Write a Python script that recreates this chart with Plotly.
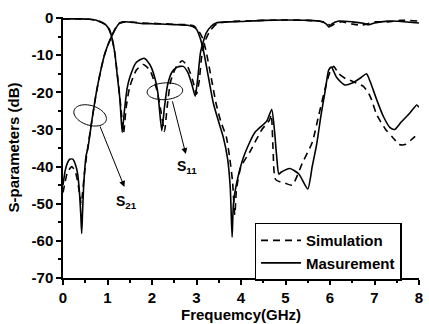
import numpy as np
import plotly.graph_objects as go

# ---------------- data ----------------
s21_meas_f = [0, 0.05, 0.1, 0.15, 0.22, 0.28, 0.33, 0.37, 0.40, 0.42, 0.44, 0.47, 0.52, 0.56, 0.65,
              0.75, 0.85, 0.93, 1.0, 1.09, 1.18, 1.27, 1.4, 1.6, 1.8, 2.0, 2.2, 2.4, 2.6, 2.8, 2.9,
              3.0, 3.08, 3.16, 3.27, 3.38, 3.5, 3.6, 3.7, 3.76, 3.8, 3.83, 3.9, 4.07, 4.31, 4.58,
              4.69, 4.75, 4.8, 4.85, 4.9, 5.1, 5.3, 5.5, 5.6, 5.7, 5.8, 5.9, 5.97, 6.03, 6.15,
              6.33, 6.5, 6.7, 6.82, 6.9, 7.05, 7.2, 7.35, 7.45, 7.6, 7.8, 7.95, 8.0]
s21_meas_db = [-45, -41, -39, -38, -38, -39.5, -42, -47, -53, -58, -52, -44, -37, -35, -27.5,
               -20, -14, -10, -7.5, -5, -2.8, -1.4, -1.0, -1.2, -1.5, -1.5, -1.6, -1.7, -1.8, -1.9, -2.2,
               -3.0, -5.3, -9, -16, -23, -28, -32, -38, -46, -59, -50, -44.5, -37, -30.8, -27.7,
               -24.6, -30, -37, -42, -41.5, -40.5, -42, -46, -40, -34, -26, -19, -14, -13.2, -16,
               -18, -17.5, -16, -15, -17, -22, -26.5, -29.5, -30, -28, -25.5, -23.4, -24]

s21_sim_f = [0, 0.05, 0.1, 0.2, 0.28, 0.33, 0.38, 0.41, 0.44, 0.48, 0.53, 0.58, 0.65,
             0.75, 0.85, 0.93, 1.0, 1.09, 1.18, 1.27, 1.4, 1.6, 1.8, 2.0, 2.2, 2.4, 2.6, 2.8, 2.95,
             3.05, 3.14, 3.22, 3.33, 3.44, 3.55, 3.67, 3.75, 3.81, 3.86, 3.9, 4.0, 4.2, 4.47, 4.64,
             4.68, 4.72, 4.78, 5.0, 5.15, 5.38, 5.6, 5.75, 5.9, 6.0, 6.08, 6.2, 6.35, 6.5, 6.75,
             6.9, 7.05, 7.25, 7.4, 7.55, 7.7, 7.85, 8.0]
s21_sim_db = [-47, -44, -41.5, -40, -41.5, -44, -48, -50, -47, -42, -37, -33, -27.5,
              -20, -14, -10, -7.5, -5, -2.8, -1.3, -1.0, -1.1, -1.3, -1.4, -1.5, -1.6, -1.7, -1.8, -2.2,
              -3.5, -5.5, -9.2, -16, -23, -28, -32, -38, -44, -53, -46, -40, -36, -30, -27.5,
              -26, -35, -43.5, -44.5, -45, -39, -33.5, -26, -18.5, -14.5, -13, -15, -16.3, -17, -18.4,
              -21, -26, -30, -32, -34, -34, -32.5, -31]

s11_meas_f = [0, 0.4, 0.6, 0.75, 0.85, 0.97, 1.05, 1.11, 1.17, 1.22, 1.28, 1.33, 1.38, 1.44,
              1.5, 1.64, 1.82, 1.95, 2.05, 2.13, 2.22, 2.28, 2.35, 2.45, 2.57, 2.7, 2.8, 2.9, 2.97,
              3.03, 3.09, 3.16, 3.22, 3.33, 3.44, 3.7, 4.0, 4.5, 5.0, 5.5, 5.8, 5.92, 5.98, 6.05,
              6.2, 6.5, 6.75, 6.87, 7.0, 7.3, 7.6, 8.0]
s11_meas_db = [-0.2, -0.2, -0.3, -0.6, -1.1, -1.9, -3.5, -5.8, -10, -15.5, -22, -30.8, -25, -19,
               -16, -12, -10.8, -12.5, -15.5, -20, -30.3, -24, -18, -14.5, -13.2, -13, -14.5, -18, -21,
               -16, -9.2, -6, -4, -2.2, -1.3, -1.0, -0.9, -0.6, -0.5, -0.6, -0.9, -1.6, -2.4, -1.5,
               -0.8, -1.0, -1.4, -1.8, -1.3, -0.8, -0.9, -1.3]

s11_sim_f = [0, 0.4, 0.6, 0.75, 0.85, 0.97, 1.05, 1.1, 1.16, 1.22, 1.3, 1.36, 1.42, 1.5,
             1.65, 1.8, 1.95, 2.1, 2.2, 2.28, 2.34, 2.42, 2.55, 2.68, 2.8, 2.92, 3.0, 3.06,
             3.12, 3.2, 3.3, 3.45, 3.7, 4.0, 5.0, 5.5, 5.85, 5.95, 6.02, 6.1, 6.25, 6.5, 6.7,
             6.85, 7.0, 7.3, 7.6, 8.0]
s11_sim_db = [-0.2, -0.2, -0.3, -0.6, -1.0, -1.8, -3.2, -5.5, -9, -15, -24, -31, -24, -18.5,
              -14, -12.5, -14, -19, -25, -30.5, -24, -17, -13, -11.5, -13, -17, -20.5, -17,
              -10, -6, -3.5, -1.6, -1.0, -0.8, -0.5, -0.6, -1.0, -1.5, -2.1, -1.6, -1.0, -1.6, -1.9,
              -1.5, -1.0, -1.0, -0.6, -0.8]

x_ticks = [0, 1, 2, 3, 4, 5, 6, 7, 8]
y_ticks = [0, -10, -20, -30, -40, -50, -60, -70]

# ---------------- figure ----------------
FONT = "Liberation Sans, Arial, sans-serif"
fig = go.Figure()

def add(f, db, dash, name, show):
    fig.add_trace(go.Scatter(
        x=f, y=db, mode="lines", name=name, showlegend=show,
        line=dict(color="black", width=1.6, dash=dash, shape="spline", smoothing=0.6),
        hoverinfo="skip"))

DASH = "7px,5px"
add(s11_sim_f, s11_sim_db, DASH, "Simulation", True)
add(s21_sim_f, s21_sim_db, DASH, "Simulation", False)
add(s11_meas_f, s11_meas_db, "solid", "Masurement", True)
add(s21_meas_f, s21_meas_db, "solid", "Masurement", False)

# pixel scale helpers for drawing the ellipses (plot area 360 x 266 px)
PX_X = 360 / 8.0
PX_Y = 266 / 70.3

def ellipse_path(cf, cdb, a_px, b_px, rot_deg):
    t = np.linspace(0, 2 * np.pi, 60)
    r = np.deg2rad(rot_deg)
    dx = a_px * np.cos(t) * np.cos(r) - b_px * np.sin(t) * np.sin(r)
    dy = a_px * np.cos(t) * np.sin(r) + b_px * np.sin(t) * np.cos(r)
    xs = cf + dx / PX_X
    ys = cdb - dy / PX_Y
    pts = " L".join(f"{x:.4f},{y:.4f}" for x, y in zip(xs, ys))
    return "M" + pts + " Z"

fig.add_shape(type="path", path=ellipse_path(0.61, -26.2, 17, 10, 18),
              line=dict(color="black", width=1), xref="x", yref="y")
fig.add_shape(type="path", path=ellipse_path(2.29, -19.7, 18, 8.5, -4),
              line=dict(color="black", width=1), xref="x", yref="y")

# arrows
fig.add_annotation(x=1.38, y=-45.5, ax=0.82, ay=-28.8, xref="x", yref="y", axref="x", ayref="y",
                   text="", showarrow=True, arrowhead=2, arrowsize=1.2, arrowwidth=1, arrowcolor="black")
fig.add_annotation(x=2.76, y=-36.6, ax=2.45, ay=-22.0, xref="x", yref="y", axref="x", ayref="y",
                   text="", showarrow=True, arrowhead=2, arrowsize=1.2, arrowwidth=1, arrowcolor="black")
fig.add_annotation(x=1.43, y=-49.6, xref="x", yref="y", showarrow=False,
                   text="<b>S</b><b><sub>21</sub></b>", font=dict(family=FONT, size=14, color="black"))
fig.add_annotation(x=2.78, y=-40.0, xref="x", yref="y", showarrow=False,
                   text="<b>S</b><b><sub>11</sub></b>", font=dict(family=FONT, size=14, color="black"))

fig.update_layout(
    width=429, height=324,
    margin=dict(l=63, r=6, t=17, b=40),
    paper_bgcolor="white", plot_bgcolor="white",
    font=dict(family=FONT, color="black"),
    legend=dict(x=0.538, y=0.212, xanchor="left", yanchor="top",
                bordercolor="black", borderwidth=1.5, bgcolor="white",
                font=dict(family=FONT, size=15, color="black", weight="bold"),
                tracegroupgap=0, itemwidth=40),
)
fig.update_xaxes(
    range=[0, 8], tickvals=x_ticks, ticktext=[str(v) for v in x_ticks],
    showgrid=False, zeroline=False, showline=True, linecolor="black", linewidth=1.5,
    ticks="outside", ticklen=5, tickwidth=1.5, tickcolor="black",
    minor=dict(dtick=0.5, ticks="outside", ticklen=3, tickwidth=1.5, tickcolor="black"),
    tickfont=dict(family=FONT, size=15, color="black", weight="bold"),
    title=dict(text="Frequemcy(GHz)", font=dict(family=FONT, size=15, color="black", weight="bold"),
               standoff=2),
)
fig.update_yaxes(
    range=[-70, 0.3], tickvals=y_ticks, ticktext=[str(v) for v in y_ticks],
    showgrid=False, zeroline=False, showline=True, linecolor="black", linewidth=1.5,
    ticks="outside", ticklen=5, tickwidth=1.5, tickcolor="black",
    minor=dict(dtick=5, ticks="outside", ticklen=3, tickwidth=1.5, tickcolor="black"),
    tickfont=dict(family=FONT, size=15, color="black", weight="bold"),
    title=dict(text="S-parameters (dB)", font=dict(family=FONT, size=15, color="black", weight="bold"),
               standoff=8),
)

fig.write_html("out.html")
